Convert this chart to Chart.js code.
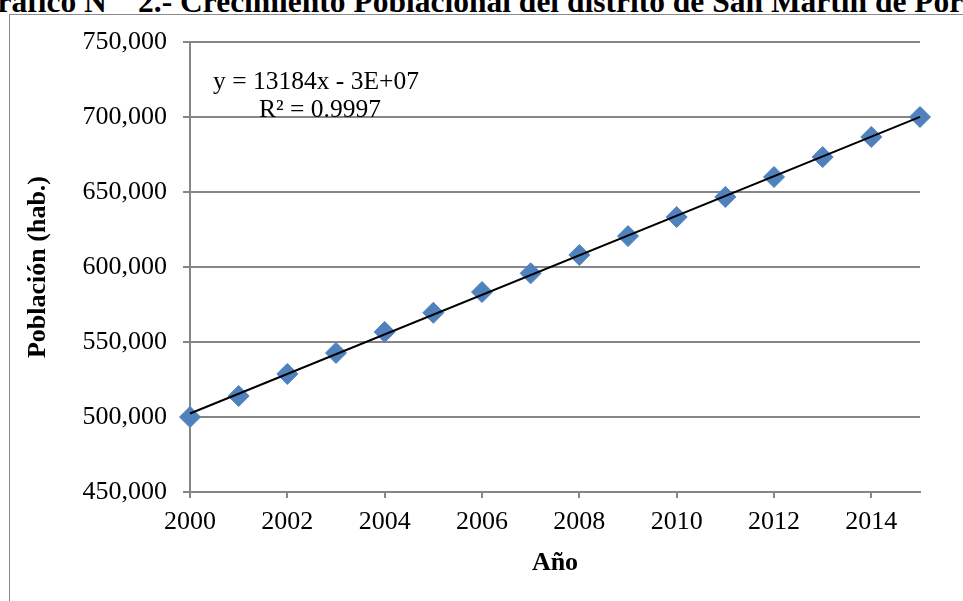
<!DOCTYPE html>
<html>
<head>
<meta charset="utf-8">
<script src="https://cdn.jsdelivr.net/npm/chart.js@4"></script>
<style>
  body { margin: 0; background: #fff; overflow: hidden; }
  #wrap { position: relative; width: 963px; height: 601px; overflow: hidden; }
  #frame { position: absolute; left: 9px; top: 14px; width: 1000px; height: 700px; border: 1px solid #8a8a8a; }
  .titulo { position: absolute; top: -14px; white-space: pre; font: bold 31.5px "Liberation Serif", "Times New Roman", serif; line-height: 31px; color: #000; }
  canvas { position: absolute; left: 0; top: 0; }
</style>
</head>
<body>
<div id="wrap">
  <div id="frame"></div>
  <div class="titulo" style="left:-27px">Gráfico N°</div>
  <div class="titulo" style="left:138px">2.- Crecimiento Poblacional del distrito de San Martín de Porres</div>
  <canvas id="grafico" width="963" height="601"></canvas>
</div>
<script>
// datos
var anios = [2000, 2001, 2002, 2003, 2004, 2005, 2006, 2007, 2008, 2009, 2010, 2011, 2012, 2013, 2014, 2015]
var poblacion = [500000, 514000, 528700, 542700, 556700, 569500, 583300, 595800, 608000, 620600, 633300, 646700, 660000, 673300, 686700, 700000]
var ecuacion = ['y = 13184x - 3E+07', 'R² = 0.9997']

var serif = '"Liberation Serif", "Times New Roman", serif'
var gris = '#868686'

// linea de tendencia (minimos cuadrados sobre los puntos)
var n = anios.length, sx = 0, sy = 0, sxx = 0, sxy = 0
for (var i = 0; i < n; i++) {
    sx += anios[i]; sy += poblacion[i]
    sxx += anios[i] * anios[i]; sxy += anios[i] * poblacion[i]
}
var m = (n * sxy - sx * sy) / (n * sxx - sx * sx)
var b = (sy - m * sx) / n
var tendencia = [
    {x: anios[0], y: m * anios[0] + b},
    {x: anios[n - 1], y: m * anios[n - 1] + b}
]

var puntos = anios.map(function(a, i) { return {x: a, y: poblacion[i]} })

var etiquetaEcuacion = {
    id: 'etiquetaEcuacion',
    afterDatasetsDraw: function(chart) {
        var ctx = chart.ctx
        ctx.save()
        ctx.fillStyle = '#000'
        ctx.font = '25.5px ' + serif
        ctx.textAlign = 'center'
        ctx.textBaseline = 'alphabetic'
        ctx.fillText(ecuacion[0], 316, 89)
        ctx.fillText(ecuacion[1], 320, 117)
        ctx.restore()
    }
}

var ctx = document.getElementById('grafico')
var chart = new Chart(ctx, {
    type: 'scatter',
    data: {
        datasets: [
            {
                label: 'Población',
                data: puntos,
                backgroundColor: '#4F81BD',
                borderColor: '#4F81BD',
                pointStyle: 'rectRot',
                pointRadius: 10.5,
                pointBorderWidth: 1,
                order: 2,
                clip: false
            },
            {
                label: 'Lineal',
                type: 'line',
                data: tendencia,
                borderColor: '#000',
                borderWidth: 2,
                pointRadius: 0,
                fill: false,
                order: 1,
                clip: false
            }
        ]
    },
    options: {
        responsive: false,
        animation: false,
        layout: { padding: { left: 0, right: 43, top: 42, bottom: 0 } },
        plugins: {
            legend: { display: false },
            tooltip: { enabled: false }
        },
        scales: {
            x: {
                type: 'linear',
                min: 2000,
                max: 2015,
                afterFit: function(scale) { scale.height = 109 },
                ticks: {
                    stepSize: 2,
                    includeBounds: false,
                    padding: 9,
                    color: '#000',
                    font: { family: serif, size: 26 },
                    callback: function(v) { return String(v) }
                },
                grid: { color: 'transparent', tickColor: gris, tickLength: 6, lineWidth: 2 },
                border: { color: gris, width: 2 },
                title: {
                    display: true,
                    text: 'Año',
                    color: '#000',
                    font: { family: serif, size: 26, weight: 'bold' },
                    padding: { top: 0, bottom: 22 }
                }
            },
            y: {
                min: 450000,
                max: 750000,
                afterFit: function(scale) { scale.width = 190 },
                ticks: {
                    stepSize: 50000,
                    padding: 16,
                    color: '#000',
                    font: { family: serif, size: 26 },
                    callback: function(v) { return v.toLocaleString('en-US') }
                },
                grid: { color: gris, lineWidth: 2, tickLength: 7 },
                border: { color: gris, width: 2 },
                title: {
                    display: true,
                    text: 'Población (hab.)',
                    color: '#000',
                    font: { family: serif, size: 26, weight: 'bold' },
                    padding: { top: 23, bottom: 0 }
                }
            }
        }
    },
    plugins: [etiquetaEcuacion]
})
</script>
</body>
</html>
